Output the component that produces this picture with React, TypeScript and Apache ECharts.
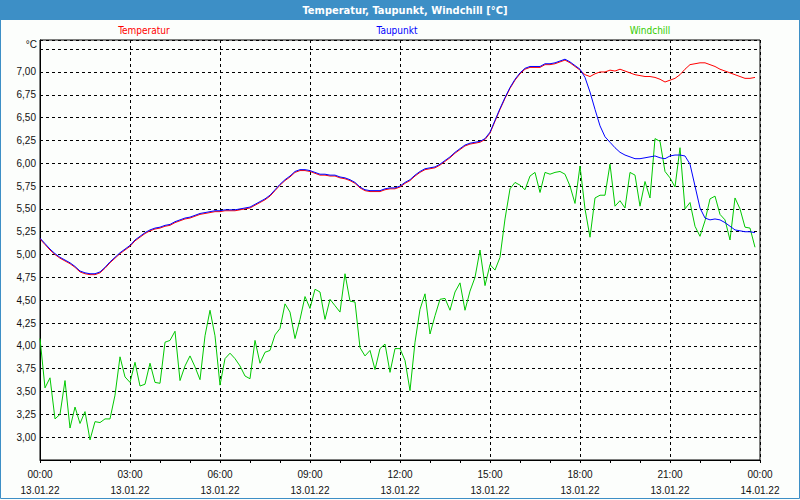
import React, { useEffect, useRef } from 'react';
import * as echarts from 'echarts';

// 10-minute samples from 13.01.22 00:00
const stepMinutes = 10;

const temperatur = [
  5.17, 5.11, 5.05, 5.00, 4.96, 4.93, 4.90, 4.86, 4.81, 4.79,
  4.78, 4.78, 4.80, 4.85, 4.91, 4.96, 5.01, 5.05, 5.09, 5.15,
  5.19, 5.23, 5.26, 5.28, 5.29, 5.31, 5.32, 5.35, 5.37, 5.39,
  5.40, 5.42, 5.44, 5.45, 5.46, 5.47, 5.47, 5.48, 5.48, 5.48,
  5.49, 5.50, 5.51, 5.54, 5.57, 5.60, 5.64, 5.70, 5.76, 5.81,
  5.85, 5.90, 5.92, 5.92, 5.91, 5.89, 5.87, 5.87, 5.86, 5.86,
  5.84, 5.83, 5.81, 5.78, 5.73, 5.70, 5.69, 5.69, 5.69, 5.71,
  5.72, 5.72, 5.74, 5.78, 5.81, 5.86, 5.90, 5.93, 5.94, 5.95,
  5.98, 6.02, 6.06, 6.11, 6.15, 6.19, 6.21, 6.22, 6.23, 6.26,
  6.33, 6.46, 6.59, 6.71, 6.82, 6.91, 6.98, 7.03, 7.05, 7.05,
  7.05, 7.08, 7.08, 7.09, 7.11, 7.13, 7.10, 7.06, 7.02, 6.97,
  6.95, 6.98, 7.00, 7.00, 7.02, 7.01, 7.03, 7.01, 6.99, 6.97,
  6.96, 6.95, 6.95, 6.94, 6.92, 6.89, 6.91, 6.93, 6.97, 7.03,
  7.08, 7.09, 7.10, 7.10, 7.08, 7.06, 7.03, 7.01, 6.99, 6.97,
  6.95, 6.93, 6.93, 6.94,
];

const taupunkt = [
  5.18, 5.12, 5.06, 5.01, 4.97, 4.94, 4.91, 4.87, 4.82, 4.80,
  4.79, 4.79, 4.81, 4.86, 4.92, 4.97, 5.02, 5.06, 5.10, 5.16,
  5.20, 5.24, 5.27, 5.29, 5.30, 5.32, 5.33, 5.36, 5.38, 5.40,
  5.41, 5.43, 5.45, 5.46, 5.47, 5.48, 5.48, 5.49, 5.49, 5.49,
  5.50, 5.51, 5.52, 5.55, 5.58, 5.61, 5.65, 5.71, 5.77, 5.82,
  5.86, 5.91, 5.93, 5.93, 5.92, 5.90, 5.88, 5.88, 5.87, 5.87,
  5.85, 5.84, 5.82, 5.79, 5.74, 5.71, 5.70, 5.70, 5.70, 5.72,
  5.73, 5.73, 5.75, 5.79, 5.82, 5.87, 5.91, 5.94, 5.95, 5.96,
  5.99, 6.03, 6.07, 6.12, 6.16, 6.20, 6.22, 6.23, 6.24, 6.27,
  6.34, 6.47, 6.60, 6.72, 6.83, 6.92, 6.99, 7.04, 7.06, 7.06,
  7.06, 7.09, 7.09, 7.10, 7.12, 7.14, 7.11, 7.07, 7.03, 6.94,
  6.78, 6.59, 6.41, 6.29, 6.23, 6.17, 6.12, 6.09, 6.07, 6.05,
  6.05, 6.06, 6.07, 6.08, 6.06, 6.05, 6.08, 6.09, 6.09, 6.08,
  5.99, 5.75, 5.51, 5.40, 5.38, 5.39, 5.38, 5.35, 5.31, 5.27,
  5.26, 5.25, 5.25, 5.24,
];

const windchill = [
  4.08, 3.54, 3.65, 3.20, 3.25, 3.62, 3.10, 3.33, 3.15, 3.28,
  2.97, 3.17, 3.16, 3.20, 3.20, 3.46, 3.88, 3.66, 3.60, 3.82,
  3.56, 3.58, 3.81, 3.60, 3.59, 4.04, 4.06, 4.16, 3.62, 3.78,
  3.89, 3.77, 3.63, 4.11, 4.39, 4.11, 3.57, 3.86, 3.92, 3.86,
  3.78, 3.67, 3.64, 4.06, 3.81, 3.93, 3.95, 4.12, 4.19, 4.46,
  4.37, 4.08, 4.29, 4.54, 4.41, 4.62, 4.59, 4.29, 4.51, 4.44,
  4.37, 4.79, 4.49, 4.48, 3.98, 3.89, 3.95, 3.74, 3.97, 4.02,
  3.71, 3.97, 3.97, 3.84, 3.51, 4.04, 4.40, 4.57, 4.13, 4.33,
  4.51, 4.52, 4.39, 4.59, 4.69, 4.39, 4.60, 4.75, 5.05, 4.66,
  4.89, 4.83, 4.97, 5.39, 5.72, 5.79, 5.76, 5.71, 5.86, 5.90,
  5.68, 5.90, 5.88, 5.90, 5.91, 5.88, 5.75, 5.56, 5.97, 5.50,
  5.19, 5.62, 5.65, 5.65, 5.99, 5.53, 5.59, 5.51, 5.90, 5.87,
  5.53, 5.80, 5.62, 6.27, 6.24, 5.91, 5.84, 5.74, 6.17, 5.50,
  5.57, 5.31, 5.20, 5.37, 5.61, 5.64, 5.44, 5.38, 5.16, 5.62,
  5.50, 5.30, 5.29, 5.08,
];

const xTickTimes = ['00:00', '03:00', '06:00', '09:00', '12:00', '15:00', '18:00', '21:00', '00:00'];
const xTickDates = ['13.01.22', '13.01.22', '13.01.22', '13.01.22', '13.01.22', '13.01.22', '13.01.22', '13.01.22', '14.01.22'];

const seriesNames = ['Temperatur', 'Taupunkt', 'Windchill'];
const titleText = 'Temperatur, Taupunkt, Windchill [°C]';
const unitText = '°C';

const FONT = "'Liberation Sans', Arial, sans-serif";
const NARROW = "'Liberation Sans Narrow', 'DejaVu Sans Condensed', 'Liberation Sans', sans-serif";

export default function App() {
  const ref = useRef<HTMLDivElement>(null);

  useEffect(() => {
    document.body.style.margin = '0';
    const chart = echarts.init(ref.current!, null, { renderer: 'svg' });
    const pairs = (arr: number[]) => arr.map((v, i) => [(i * stepMinutes) / 60, v]);

    chart.setOption({
      animation: false,
      backgroundColor: '#fcfefc',
      grid: {
        left: 40,
        right: 40,
        top: 40,
        bottom: 40,
        show: true,
        borderColor: '#000',
        borderWidth: 1,
        backgroundColor: 'transparent',
      },
      xAxis: {
        type: 'value',
        min: 0,
        max: 24,
        interval: 3,
        axisLine: { show: true, lineStyle: { color: '#000', width: 1 } },
        axisTick: { show: true, length: 3, lineStyle: { color: '#000' } },
        minorTick: { show: true, splitNumber: 3, length: 3, lineStyle: { color: '#000' } },
        splitLine: { show: true, lineStyle: { color: '#000', type: [3, 3], width: 1 } },
        axisLabel: {
          margin: 6,
          lineHeight: 16,
          fontFamily: FONT,
          fontSize: 10,
          color: '#111',
          formatter: (v: number) => {
            const k = Math.round(v / 3);
            return xTickTimes[k] + '\n' + xTickDates[k];
          },
        },
      },
      yAxis: {
        type: 'value',
        min: 2.75,
        max: 7.35,
        interval: 0.25,
        axisLine: { show: true, lineStyle: { color: '#000', width: 1 } },
        axisTick: { show: false },
        splitLine: { show: true, lineStyle: { color: '#000', type: [3, 3], width: 1 } },
        axisLabel: {
          margin: 4,
          fontFamily: FONT,
          fontSize: 10,
          color: '#111',
          showMaxLabel: false,
          showMinLabel: false,
          formatter: (v: number) => (v > 2.99 && v < 7.01 ? v.toFixed(2).replace('.', ',') : ''),
        },
      },
      series: [
        {
          name: seriesNames[2],
          type: 'line',
          data: pairs(windchill),
          showSymbol: false,
          lineStyle: { color: '#00c800', width: 1 },
          itemStyle: { color: '#00c800' },
          z: 2,
        },
        {
          name: seriesNames[0],
          type: 'line',
          data: pairs(temperatur),
          showSymbol: false,
          lineStyle: { color: '#ff0000', width: 1 },
          itemStyle: { color: '#ff0000' },
          z: 3,
        },
        {
          name: seriesNames[1],
          type: 'line',
          data: pairs(taupunkt),
          showSymbol: false,
          lineStyle: { color: '#0000ff', width: 1 },
          itemStyle: { color: '#0000ff' },
          z: 4,
        },
      ],
      graphic: [
        { type: 'rect', shape: { x: 0, y: 0, width: 800, height: 20 }, style: { fill: '#3d8fc6' }, z: 10 },
        { type: 'rect', shape: { x: 0.5, y: 0.5, width: 799, height: 498 }, style: { fill: 'none', stroke: '#3d8fc6', lineWidth: 1 }, z: 10 },
        {
          type: 'text', x: 405, y: 10, z: 11,
          style: { text: titleText, fill: '#fff', font: `bold 11px ${NARROW}`, textAlign: 'center', textVerticalAlign: 'middle' },
        },
        {
          type: 'text', x: 144, y: 30, z: 11,
          style: { text: seriesNames[0], fill: '#ff0000', font: `10px ${NARROW}`, textAlign: 'center', textVerticalAlign: 'middle' },
        },
        {
          type: 'text', x: 397, y: 30, z: 11,
          style: { text: seriesNames[1], fill: '#0000ff', font: `10px ${NARROW}`, textAlign: 'center', textVerticalAlign: 'middle' },
        },
        {
          type: 'text', x: 650, y: 30, z: 11,
          style: { text: seriesNames[2], fill: '#33cc00', font: `10px ${NARROW}`, textAlign: 'center', textVerticalAlign: 'middle' },
        },
        {
          type: 'text', x: 37, y: 44, z: 11,
          style: { text: unitText, fill: '#111', font: `10px ${FONT}`, textAlign: 'right', textVerticalAlign: 'middle' },
        },
      ],
    });

    return () => chart.dispose();
  }, []);

  return <div ref={ref} style={{ width: 800, height: 500, position: 'absolute', left: 0, top: 0 }} />;
}
